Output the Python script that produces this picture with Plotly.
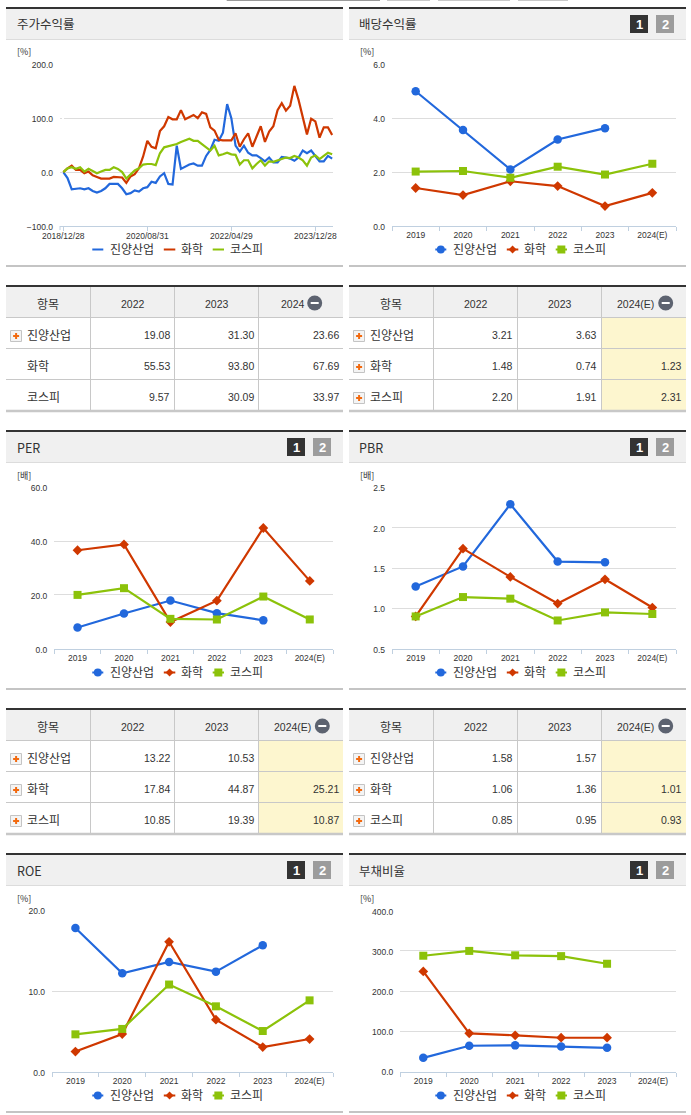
import plotly.graph_objects as go

W, H = 691, 1115

SERIES = ["진양산업", "화학", "코스피"]
BLUE, RED, GREEN = "#2268dc", "#cf3800", "#8cc20a"
YEARS = ["2019", "2020", "2021", "2022", "2023", "2024(E)"]

# 주가수익률 (monthly index, % return)
ret_ticktext = ["2018/12/28", "2020/08/31", "2022/04/29", "2023/12/28"]
ret_tickidx = [0, 20, 40, 60]
ret_jy = [0, -11, -32, -31, -30, -32, -30, -35, -38, -35, -30, -22, -22, -22, -30, -41, -39, -34, -36, -30,
          -28, -18, -20, -8, -2, -22, -23, 49, 6, 10, 14, 16, 12, 12, 30, 41, 60, 58, 73, 126,
          100, 49, 38, 49, 36, 31, 31, 26, 20, 27, 18, 18, 28, 27, 25, 21, 27, 40, 35, 40,
          31, 20, 20, 30, 25]
ret_hw = [0, 7, 12, 4, 4, -2, 1, -6, -9, -12, -12, -12, -9, -10, -10, -20, -8, -4, 7, 29,
          58, 47, 44, 76, 85, 102, 98, 98, 115, 98, 102, 106, 100, 111, 108, 83, 77, 60, 59, 59,
          59, 72, 47, 61, 72, 47, 66, 85, 56, 75, 85, 115, 128, 114, 123, 160, 134, 103, 70, 99,
          94, 64, 83, 83, 69]
ret_ks = [0, 7, 9, 6, 9, 1, 6, 2, -2, 1, 4, 4, 9, 6, 0, -12, -4, 3, 7, 14,
          15, 15, 13, 35, 46, 48, 50, 52, 56, 59, 62, 58, 58, 52, 46, 40, 49, 31, 33, 36,
          33, 32, 14, 22, 22, 7, 15, 22, 12, 20, 19, 22, 25, 27, 26, 30, 27, 22, 12, 27,
          31, 24, 30, 36, 33]

div_jy = [5.0, 3.56, 2.1, 3.21, 3.63, None]
div_hw = [1.41, 1.15, 1.66, 1.48, 0.74, 1.23]
div_ks = [2.02, 2.04, 1.79, 2.20, 1.91, 2.31]

per_jy = [7.9, 13.1, 17.9, 13.22, 10.53, None]
per_hw = [36.6, 38.75, 9.9, 17.84, 44.87, 25.21]
per_ks = [20.0, 22.5, 11.1, 10.85, 19.39, 10.87]

pbr_jy = [1.27, 1.52, 2.29, 1.58, 1.57, None]
pbr_hw = [0.9, 1.74, 1.39, 1.06, 1.36, 1.01]
pbr_ks = [0.9, 1.14, 1.12, 0.85, 0.95, 0.93]

roe_jy = [17.8, 12.2, 13.6, 12.4, 15.66, None]
roe_hw = [2.5, 4.67, 16.1, 6.45, 3.06, 4.05]
roe_ks = [4.63, 5.3, 10.8, 8.1, 5.04, 8.84]

debt_jy = [34, 64, 65, 62, 59, None]
debt_hw = [249, 95, 90, 84, 84, None]
debt_ks = [288, 300, 289, 287, 268, None]

tbl_ret = [["19.08", "31.30", "23.66"], ["55.53", "93.80", "67.69"], ["9.57", "30.09", "33.97"]]
tbl_div = [["3.21", "3.63", ""], ["1.48", "0.74", "1.23"], ["2.20", "1.91", "2.31"]]
tbl_per = [["13.22", "10.53", ""], ["17.84", "44.87", "25.21"], ["10.85", "19.39", "10.87"]]
tbl_pbr = [["1.58", "1.57", ""], ["1.06", "1.36", "1.01"], ["0.85", "0.95", "0.93"]]

KR = "Noto Sans CJK KR"
LAT = "Liberation Sans"
TXT = "#333333"
TICK = 8.5

fig = go.Figure()
shapes, annos = [], []


def px(x):
    return x / W


def py(y):
    return 1 - y / H


def rect(x0, y0, x1, y1, fill, line=None, layer="below"):
    shapes.append(dict(type="rect", xref="paper", yref="paper", x0=px(x0), x1=px(x1), y0=py(y0), y1=py(y1),
                       fillcolor=fill, line=dict(width=1 if line else 0, color=line or fill), layer=layer))


def hline(x0, x1, y, color, width=2):
    shapes.append(dict(type="line", xref="paper", yref="paper", x0=px(x0), x1=px(x1), y0=py(y), y1=py(y),
                       line=dict(color=color, width=width), layer="below"))


def vline(x, y0, y1, color, width=1):
    shapes.append(dict(type="line", xref="paper", yref="paper", x0=px(x), x1=px(x), y0=py(y0), y1=py(y1),
                       line=dict(color=color, width=width), layer="below"))


def text(x, y, s, size=12, anchor="left", font=KR, color=TXT, bold=False):
    annos.append(dict(xref="paper", yref="paper", x=px(x), y=py(y), text=f"<b>{s}</b>" if bold else s,
                      showarrow=False, xanchor=anchor, yanchor="middle", borderpad=0, borderwidth=0,
                      font=dict(family=font, size=size, color=color)))


def panel_head(x0, top, title, buttons=True):
    x1 = x0 + 337
    rect(x0, top, x1, top + 2, "#333333")
    rect(x0, top + 2, x1, top + 32, "#f0f0f0")
    hline(x0, x1, top + 32.5, "#dcdcdc", 1)
    text(x0 + 10.5, top + 17, title, 12.5)
    if buttons:
        for off, col, lab in ((281, "#333333", "1"), (307, "#9c9c9c", "2")):
            rect(x0 + off, top + 8, x0 + off + 18, top + 26, col)
            text(x0 + off + 9, top + 17.5, lab, 13, "center", LAT, "#ffffff", True)


def legend(dx, y, with_markers=True):
    items = [(92.3, 103.3, 109.7, BLUE, "circle"), (163.8, 175.3, 181, RED, "diamond"), (212.7, 224, 230, GREEN, "square")]
    for i, (a, b, t, c, m) in enumerate(items):
        hline(a + dx, b + dx, y, c, 2)
        cx = (a + b) / 2 + dx
        if with_markers:
            if m == "circle":
                shapes.append(dict(type="circle", xref="paper", yref="paper", x0=px(cx - 4), x1=px(cx + 4),
                                   y0=py(y + 4), y1=py(y - 4), fillcolor=c, line=dict(width=0), layer="below"))
            elif m == "square":
                rect(cx - 4, y - 4, cx + 4, y + 4, c)
            else:
                path = f"M {px(cx-4)} {py(y)} L {px(cx)} {py(y-4)} L {px(cx+4)} {py(y)} L {px(cx)} {py(y+4)} Z"
                shapes.append(dict(type="path", xref="paper", yref="paper", path=path, fillcolor=c,
                                   line=dict(width=0), layer="below"))
        text(t + dx, y - 1, SERIES[i], 12)


def plus(x, y):
    rect(x, y - 5.5, x + 11, y + 5.5, "#f4f4f4", "#c4c4c4")
    rect(x + 2.6, y - 1, x + 8.6, y + 1, "#f26a10")
    rect(x + 4.6, y - 3, x + 6.6, y + 3, "#f26a10")


def table(x0, top, yhead3, vals, plus_rows, hi, head_c, minus_c):
    x1 = x0 + 337
    c1, c2, c3 = x0 + 84.5, x0 + 168.5, x0 + 252.5
    rect(x0, top, x1, top + 2, "#333333")
    rect(x0, top + 2, x1, top + 32, "#f0f0f0")
    if hi:
        rect(c3, top + 33, x1, top + 125, "#fdf6cf")
    for yy in (top + 32.5, top + 63.5, top + 94.5):
        hline(x0, x1, yy, "#c8c8c8", 1)
    hline(x0, x1, top + 126, "#c8c8c8", 2.5)
    for c in (c1, c2, c3):
        vline(c, top + 2, top + 125, "#c8c8c8", 1)
    text(x0 + 41.5, top + 18.5, "항목", 12, "center")
    text(x0 + 127, top + 18.5, "2022", 10.5, "center", LAT)
    text(x0 + 211, top + 18.5, "2023", 10.5, "center", LAT)
    text(head_c, top + 18.5, yhead3, 10.5, "center", LAT)
    shapes.append(dict(type="circle", xref="paper", yref="paper", x0=px(minus_c - 7.5), x1=px(minus_c + 7.5),
                       y0=py(top + 25.5), y1=py(top + 10.5), fillcolor="#5d6370", line=dict(width=0), layer="below"))
    rect(minus_c - 4, top + 17, minus_c + 4, top + 19, "#ffffff")
    right = [x0 + 164, x0 + 248, x0 + 333]
    for r, row in enumerate(vals):
        ym = top + 48 + r * 31
        if r in plus_rows:
            plus(x0 + 4.5, ym + 3)
        text(x0 + 20.7, ym + 1, SERIES[r], 12)
        for j, v in enumerate(row):
            if v:
                text(right[j], ym + 2, v, 10.5, "right", LAT)


def add_chart(i, xd, ty, by, yrange, dtick, s1, s2, s3):
    suf = "" if i == 1 else str(i)
    for s, c, sym, name in ((s1, BLUE, "circle", 0), (s2, RED, "diamond", 1), (s3, GREEN, "square", 2)):
        size = {"circle": 8.5, "diamond": 7.5, "square": 8}[sym]
        fig.add_trace(go.Scatter(x=YEARS, y=s, name=SERIES[name], mode="lines+markers",
                                 line=dict(color=c, width=2.2),
                                 marker=dict(symbol=sym, size=size, color=c),
                                 xaxis=f"x{suf}", yaxis=f"y{suf}", showlegend=False, cliponaxis=False,
                                 connectgaps=False))
    fig.layout[f"xaxis{suf}"] = dict(domain=[px(xd[0]), px(xd[1])], anchor=f"y{suf}", type="category",
                                     categoryorder="array", categoryarray=YEARS, tickson="boundaries",
                                     range=[-0.5, 5.5],
                                     ticks="outside", ticklen=4, tickcolor="#c0d0e0", tickwidth=1,
                                     showline=True, linecolor="#c0d0e0", linewidth=1, showgrid=False,
                                     ticklabelstandoff=1,
                                     tickfont=dict(family=LAT, size=TICK, color=TXT), fixedrange=True,
                                     automargin=False)
    fig.layout[f"yaxis{suf}"] = dict(domain=[py(by), py(ty)], anchor=f"x{suf}", range=yrange, dtick=dtick,
                                     tickformat=".1f", showgrid=True, gridcolor="#dddddd", gridwidth=1,
                                     zeroline=False, showline=False, ticks="",
                                     ticklabelstandoff=6, ticklabelshift=1,
                                     tickfont=dict(family=LAT, size=TICK, color=TXT),
                                     fixedrange=True, automargin=False)


# --- top strip remnants
for a, b, c in ((226.7, 380, "#9a9a9a"), (387, 430, "#c8c8c8"), (438, 510, "#c8c8c8"), (518, 568, "#c8c8c8")):
    rect(a, 0, b, 1, c)

# --- Chart 1: stock return (monthly line chart)
for s, c, name in ((ret_jy, BLUE, 0), (ret_hw, RED, 1), (ret_ks, GREEN, 2)):
    fig.add_trace(go.Scatter(x=list(range(len(s))), y=s, name=SERIES[name], mode="lines",
                             line=dict(color=c, width=2.2), showlegend=False, xaxis="x", yaxis="y", cliponaxis=False))
fig.layout["xaxis"] = dict(domain=[px(60), px(333)], anchor="y", range=[-0.79, 64.2], tickvals=ret_tickidx,
                           ticktext=ret_ticktext, ticks="outside", ticklen=4, tickcolor="#c0d0e0", showline=True,
                           linecolor="#c0d0e0", linewidth=1, showgrid=False, fixedrange=True, automargin=False,
                           ticklabelstandoff=-2,
                           tickfont=dict(family=LAT, size=TICK, color=TXT))
fig.layout["yaxis"] = dict(domain=[py(226), py(64.3)], anchor="x", range=[-100, 200], dtick=100, tickformat=".1f",
                           showgrid=True, gridcolor="#dddddd", zeroline=False, showline=False, ticks="",
                           ticklabelstandoff=6, ticklabelshift=1, fixedrange=True, automargin=False,
                           tickfont=dict(family=LAT, size=TICK, color=TXT))
vline(60, 226, 230, "#c0d0e0")

add_chart(2, (392, 676), 64.3, 226, [0, 6], 2, div_jy, div_hw, div_ks)
add_chart(3, (54.3, 333), 487.3, 648.7, [0, 60], 20, per_jy, per_hw, per_ks)
add_chart(4, (392, 676), 487.3, 648.7, [0.5, 2.5], 0.5, pbr_jy, pbr_hw, pbr_ks)
add_chart(5, (52, 333), 910.3, 1071.7, [0, 20], 10, roe_jy, roe_hw, roe_ks)
add_chart(6, (400.3, 676), 910.7, 1071.5, [0, 400], 100, debt_jy, debt_hw, debt_ks)

# --- Panel chrome
LEFT, RIGHT = 6, 349
panel_head(LEFT, 7, "주가수익률", buttons=False)
panel_head(RIGHT, 7, "배당수익률")
panel_head(LEFT, 430, "PER")
panel_head(RIGHT, 430, "PBR")
panel_head(LEFT, 853, "ROE")
panel_head(RIGHT, 853, "부채비율")

for x0, y, u in ((LEFT, 52, "[%]"), (RIGHT, 52, "[%]"), (LEFT, 475, "[배]"), (RIGHT, 475, "[배]"),
                 (LEFT, 898, "[%]"), (RIGHT, 898, "[%]")):
    text(x0 + 10.7, y, u, 9, "left", KR)

for y, b in ((249.5, 266), (672.5, 689), (1095.5, 1112)):
    for dx, x0 in ((0, LEFT), (343, RIGHT)):
        legend(dx, y, with_markers=not (y == 249.5 and dx == 0))
        hline(x0, x0 + 337, b, "#c4c4c4", 2)

table(LEFT, 285, "2024", tbl_ret, (0,), False, 293, 314.7)
table(RIGHT, 285, "2024(E)", tbl_div, (0, 1, 2), True, 635, 665.7)
table(LEFT, 708, "2024(E)", tbl_per, (0, 1, 2), True, 292, 322.3)
table(RIGHT, 708, "2024(E)", tbl_pbr, (0, 1, 2), True, 635, 665.7)

fig.update_layout(width=W, height=H, margin=dict(l=0, r=0, t=0, b=0, pad=0, autoexpand=False), paper_bgcolor="#ffffff",
                  plot_bgcolor="rgba(0,0,0,0)", shapes=shapes, annotations=annos, showlegend=False)
fig.write_html("out.html", config=dict(displayModeBar=False),
               post_script="document.body.style.margin='0';document.documentElement.style.overflow='hidden';")
